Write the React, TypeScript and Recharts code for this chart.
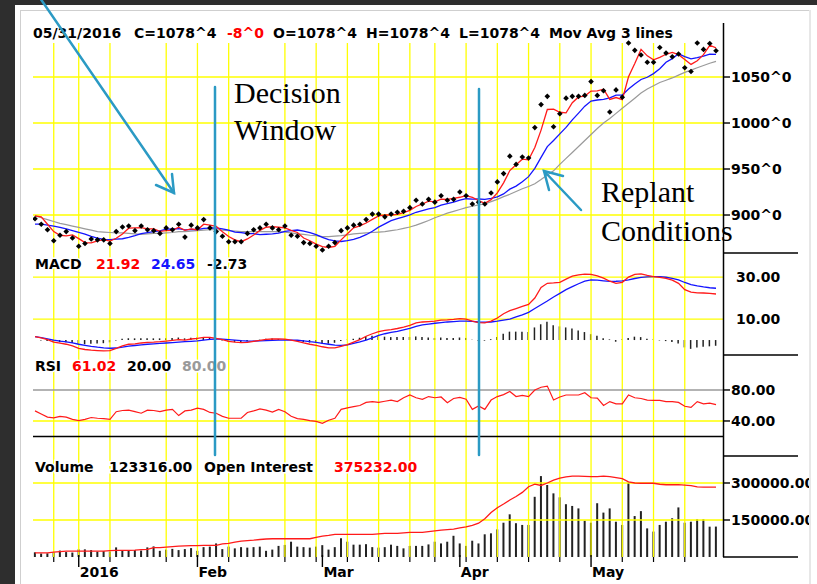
import React from 'react';
import { ComposedChart, Line, Bar, Scatter, XAxis, YAxis, ReferenceLine } from 'recharts';

// daily closes, 22 Dec 2015 .. 31 May 2016 (110 sessions)
const closes = [
  896, 890, 884, 872, 878, 882, 875, 866, 869, 874,
  873, 873, 869, 882, 887, 888, 883, 888, 884, 883,
  880, 886, 884, 890, 876, 889, 886, 895, 886, 882,
  877, 871, 871, 871, 880, 884, 886, 890, 886, 884,
  888, 878, 877, 870, 869, 866, 862, 866, 870, 883,
  886, 889, 890, 895, 901, 901, 898, 901, 903, 904,
  908, 916, 912, 917, 914, 921, 916, 917, 925, 921,
  912, 914, 912, 924, 936, 945, 964, 955, 963, 962,
  995, 1020, 1029, 996, 1010, 1027, 1029, 1029, 1030, 1045,
  1030, 1035, 1012, 1036, 1028, 1087, 1079, 1074, 1066, 1066,
  1082, 1076, 1072, 1075, 1060, 1056, 1087, 1080, 1086.5, 1078.5,
];

const maFast = [
  899, 898, 890, 882, 878, 877.3, 878.3, 874.3, 870, 869.7,
  872, 873.3, 871.7, 874.7, 879.3, 885.7, 886, 886.3, 885, 885,
  882.3, 883, 883.3, 886.7, 883.3, 885, 883.7, 890, 889, 887.7,
  881.7, 876.7, 873, 871, 874, 878.3, 883.3, 886.7, 887.3, 886.7,
  886, 883.3, 881, 875, 872, 868.3, 865.7, 864.7, 866, 873,
  879.7, 886, 888.3, 891.3, 895.3, 899, 900, 900, 900.7, 902.7,
  905, 909.3, 912, 915, 914.3, 917.3, 917, 918, 919.3, 921,
  919.3, 915.7, 912.7, 916.7, 924, 935, 948.3, 954.7, 960.7, 960,
  973.3, 992.3, 1014.7, 1015, 1011.7, 1011, 1022, 1028.3, 1029.3, 1034.7,
  1035, 1036.7, 1025.7, 1027.7, 1025.3, 1050.3, 1064.7, 1080, 1073, 1068.7,
  1071.3, 1074.7, 1076.7, 1074.3, 1069, 1063.7, 1067.7, 1074.3, 1084.5, 1081.7,
];

const maMid = [
  890, 890, 889, 888, 886.5, 885, 883, 881, 879.1, 876.7,
  874.8, 873.6, 873.2, 873.7, 874.2, 875.7, 877.6, 879.7, 880.8, 881.9,
  882.7, 884.6, 884.8, 885.1, 883.8, 884.4, 884.2, 885.4, 885.8, 886,
  885, 883.6, 881.4, 880.9, 879.9, 879.7, 878.7, 879.1, 879.6, 880.3,
  882.2, 883, 883.7, 882.6, 880.9, 878.7, 875.6, 873.3, 871.8, 871.2,
  872.1, 873.4, 875.7, 878.6, 882.4, 886.8, 890.3, 893.8, 896, 898,
  900.1, 903, 904.9, 906.7, 908.1, 910.7, 912.3, 913.9, 916.2, 917.7,
  917.2, 917.4, 916.9, 918, 919.7, 922.9, 928.1, 931.4, 936.1, 941.7,
  950.7, 962.7, 974.3, 981, 988.2, 995.2, 1003.4, 1010.8, 1018.3, 1023.9,
  1025, 1025.7, 1027.4, 1030.3, 1030.4, 1036.9, 1042.4, 1047.3, 1049.7, 1053.7,
  1058.9, 1066, 1070, 1075.2, 1072.2, 1069.7, 1071.1, 1072.7, 1074.9, 1074.6,
];

const maSlow = [
  899, 897, 895, 893, 891, 889.5, 888, 886.5, 885, 883.5,
  882, 881.5, 881, 880.5, 880.5, 880, 879.5, 879, 879.5, 880,
  880, 880.5, 881, 882, 882, 882.5, 883, 883.5, 884, 884,
  883.5, 883, 882.5, 882, 882, 882, 882, 882, 882, 882,
  881.5, 880.5, 879.5, 879, 878, 877.5, 876.5, 876.5, 877, 877.5,
  878.5, 879.5, 880, 880.5, 881, 881.5, 882, 883, 884, 885.5,
  887, 889, 891.5, 894, 897, 899.5, 902, 904, 906, 908,
  909.5, 911, 912, 914.5, 917, 920, 922.5, 925.5, 928.5, 931,
  934, 938.5, 943.5, 948, 955, 961.5, 968, 974.5, 981, 987.5,
  994, 1000, 1005, 1010.5, 1016, 1021.5, 1027, 1032.5, 1037, 1040.5,
  1044, 1046.5, 1049, 1052, 1055, 1057.5, 1060, 1062.5, 1065, 1067,
];

const macdLine = [
  1.6, 1.0, 0.2, -1.0, -1.5, -2.0, -2.8, -4.0, -4.5, -4.8,
  -5.0, -5.2, -5.0, -4.0, -2.8, -2.0, -1.8, -1.4, -1.1, -1.0,
  -0.8, -0.5, -0.2, 0.2, 0.0, 0.5, 0.8, 1.3, 1.3, 0.8,
  0.2, -0.6, -1.0, -1.2, -1.1, -0.6, -0.2, 0.3, 0.5, 0.5,
  0.4, 0.0, -0.6, -1.4, -2.0, -2.5, -3.2, -3.7, -3.7, -3.0,
  -2.2, -1.0, 0.2, 1.8, 3.0, 4.0, 4.6, 5.0, 5.5, 6.2,
  7.0, 8.2, 8.6, 8.8, 9.0, 9.5, 9.6, 9.8, 10.2, 10.0,
  9.0, 8.3, 8.2, 9.0, 10.5, 12.5, 14.0, 15.0, 16.0, 17.0,
  20.0, 25.0, 27.0, 27.2, 27.5, 29.0, 30.4, 31.0, 31.4, 31.3,
  30.6, 29.5, 28.0, 27.0, 27.5, 30.0, 31.3, 31.5, 30.8, 30.2,
  29.8, 29.4, 28.5, 27.0, 24.0, 22.8, 22.5, 22.4, 22.2, 21.92,
];

const macdSignal = [
  1.6, 1.2, 0.6, 0.0, -0.5, -0.9, -1.4, -2.0, -2.5, -3.0,
  -3.4, -3.7, -3.9, -3.8, -3.4, -2.9, -2.6, -2.3, -2.0, -1.8,
  -1.6, -1.4, -1.2, -1.0, -0.8, -0.6, -0.4, 0.0, 0.3, 0.5,
  0.4, 0.2, 0.0, -0.3, -0.5, -0.5, -0.4, -0.3, -0.2, 0.0,
  0.0, 0.0, -0.1, -0.4, -0.8, -1.1, -1.6, -2.0, -2.4, -2.5,
  -2.3, -1.6, -0.9, 0.0, 1.0, 2.2, 3.0, 3.6, 4.1, 4.8,
  5.5, 6.5, 7.2, 7.6, 8.0, 8.3, 8.6, 8.8, 9.0, 9.0,
  8.9, 8.6, 8.5, 8.6, 9.0, 9.5, 10.0, 11.0, 12.0, 13.2,
  15.0, 16.8, 18.6, 20.5, 22.2, 24.0, 25.4, 26.8, 28.0, 28.6,
  28.5, 28.2, 27.9, 28.0, 28.2, 28.6, 29.3, 29.8, 30.1, 30.2,
  30.2, 29.9, 29.4, 28.6, 27.4, 26.4, 25.8, 25.3, 24.9, 24.65,
];

const macdHist = [
  0, -0.2, -0.4, -1.0, -1.0, -1.1, -1.4, -2.0, -2.0, -1.8,
  -1.6, -1.5, -1.1, -0.2, 0.6, 0.9, 0.8, 0.9, 0.9, 0.8,
  0.8, 0.9, 1.0, 1.2, 0.8, 1.1, 1.2, 1.3, 1.0, 0.3,
  -0.2, -0.8, -1.0, -0.9, -0.6, -0.1, 0.2, 0.6, 0.7, 0.5,
  0.4, 0.0, -0.5, -1.0, -1.2, -1.4, -1.6, -1.7, -1.3, -0.5,
  0.1, 0.6, 1.1, 1.8, 2.0, 1.8, 1.6, 1.4, 1.4, 1.4,
  1.5, 1.7, 1.4, 1.2, 1.0, 1.2, 1.0, 1.0, 1.2, 1.0,
  0.1, -0.3, -0.3, 0.4, 1.5, 3.0, 4.0, 4.0, 4.0, 3.8,
  6.0, 7.5, 8.7, 7.0, 6.5, 6.0, 5.5, 4.6, 3.8, 2.8,
  2.0, 0.9, 0.3, -0.8, 0.3, 1.0, 1.6, 1.4, 0.6, 0.3,
  -0.2, -0.5, -0.9, -1.6, -3.5, -4.2, -3.6, -3.2, -3.0, -2.73,
];

const rsiLine = [
  53, 49, 45, 44, 46, 45, 42, 40.5, 42, 44.5,
  43.5, 43, 42, 52, 53.5, 54, 52, 50, 54, 53.5,
  52, 54, 55, 47, 53, 54, 56.5, 55, 51, 50,
  46, 43.5, 43.5, 43.5, 51, 53, 55.5, 54, 51.5, 55,
  52, 46, 43, 42, 40.5, 39.5, 37, 41, 43.5, 55,
  57, 58.5, 60, 64, 65, 64, 65.5, 67, 65, 70,
  73.5, 70, 68, 71.5, 70, 71, 63.5, 69, 70.5, 68,
  55, 59.5, 55, 67, 71.5, 74, 78, 71.5, 73, 71.5,
  80, 83.5, 85, 67, 71, 73.5, 73.5, 73.5, 76.5, 70,
  69.5, 60, 65, 62, 62, 73.5, 70, 69, 67, 66.5,
  66.5, 65, 65, 64, 59, 57.5, 65, 62, 63, 61.02,
];

const volume = [
  19000, 14000, 15000, 18000, 26000, 20000, 18000, 31000, 31000, 28000,
  22000, 24000, 22000, 39000, 27000, 25000, 28000, 26000, 39000, 43000,
  25000, 30000, 33000, 28000, 32000, 36000, 25000, 40000, 42000, 55000,
  32000, 42000, 35000, 40000, 38000, 40000, 42000, 25000, 30000, 45000,
  49000, 62000, 42000, 40000, 38000, 42000, 48000, 30000, 40000, 76000,
  62000, 50000, 50000, 52000, 40000, 38000, 40000, 50000, 45000, 35000,
  45000, 45000, 45000, 51000, 62000, 55000, 62000, 86000, 55000, 45000,
  66000, 55000, 92000, 96000, 112000, 139000, 173000, 137000, 130000, 130000,
  244000, 328000, 292000, 258000, 242000, 214000, 207000, 197000, 147000, 139000,
  218000, 180000, 197000, 143000, 130000, 301000, 166000, 186000, 116000, 103000,
  130000, 143000, 157000, 201000, 139000, 143000, 153000, 153000, 123000, 123316,
];

const openInterest = [
  17000, 17000, 17000, 20000, 22000, 24000, 24000, 24000, 24000, 24000,
  24000, 24000, 26000, 27000, 27000, 27000, 28000, 30000, 31000, 38000,
  38000, 40000, 42000, 44000, 45000, 46000, 46000, 47000, 47000, 47000,
  53000, 55000, 60000, 64000, 66000, 68000, 71000, 73000, 74000, 74000,
  74000, 74000, 74000, 74000, 74000, 80000, 85000, 88000, 92000, 92000,
  92000, 92000, 92000, 92000, 92000, 94000, 96000, 96000, 96000, 98000,
  100000, 100000, 100000, 103000, 106000, 109000, 111000, 113000, 118000, 122000,
  128000, 137000, 155000, 180000, 200000, 215000, 231000, 245000, 262000, 285000,
  295000, 290000, 300000, 312000, 320000, 325000, 328000, 328000, 327000, 326000,
  326000, 328000, 326000, 322000, 318000, 305000, 300000, 299000, 299000, 299000,
  295000, 293000, 293000, 293000, 291000, 289000, 284000, 283000, 283000, 283000,
];

// first session of each week (Mondays) and of each month, as session numbers
const weekStarts = [3, 7, 12, 21, 26, 31, 40, 45, 50, 55, 60, 64, 69, 74, 79, 84, 89, 94, 99, 104];
const monthStarts = [7, 26, 46, 68, 89];
const monthLabels = ['2016', 'Feb', 'Mar', 'Apr', 'May'];

const priceTicks = [900, 950, 1000, 1050];
const macdTicks = [10, 30];
const rsiTicks = [40, 80, 20];
const volumeTicks = [150000, 300000];

const headerPrice = [
  { x: 33, t: '05/31/2016' },
  { x: 134, t: 'C=1078^4' },
  { x: 227, t: '-8^0', c: '#f00' },
  { x: 273, t: 'O=1078^4' },
  { x: 366, t: 'H=1078^4' },
  { x: 459, t: 'L=1078^4' },
  { x: 549, t: 'Mov Avg 3 lines' },
];
const headerMacd = [
  { x: 35, t: 'MACD' },
  { x: 96, t: '21.92', c: '#f00' },
  { x: 151, t: '24.65', c: '#1414ff' },
  { x: 207, t: '-2.73' },
];
const headerRsi = [
  { x: 35, t: 'RSI' },
  { x: 72, t: '61.02', c: '#f00' },
  { x: 127, t: '20.00' },
  { x: 182, t: '80.00', c: '#9a9a9a' },
];
const headerVolume = [
  { x: 35, t: 'Volume' },
  { x: 109, t: '123316.00' },
  { x: 204, t: 'Open Interest' },
  { x: 334, t: '375232.00', c: '#f00' },
];

const rows = closes.map((c, i) => ({
  i,
  close: c,
  maFast: maFast[i],
  maMid: maMid[i],
  maSlow: maSlow[i],
  macd: macdLine[i],
  signal: macdSignal[i],
  hist: macdHist[i],
  rsi: rsiLine[i],
  volume: volume[i],
  oi: openInterest[i],
}));

const W = 817;
const H = 584;
const AXIS_Y = 557;
const X_DOMAIN: [number, number] = [-0.32, 110.12];
// each study panel lives in its own band of the shared plot, so the axes are stretched
const PRICE_DOMAIN: [number, number] = [528.3, 1108.7];
const MACD_DOMAIN: [number, number] = [-103.3, 150.95];
const RSI_DOMAIN: [number, number] = [-135.5, 553.5];
const VOL_DOMAIN: [number, number] = [0, 2164800];
const GRID_TOP_PRICE = 1087;

const FONT = "'DejaVu Sans', Verdana, sans-serif";
const SERIF = "'Liberation Serif', 'Times New Roman', serif";
const YELLOW = '#ffff00';
const TEAL = '#2b9ac4';
const allTicks = Array.from(new Set([...weekStarts, ...monthStarts])).sort((a, b) => a - b);

const Diamond = (props: any) => {
  const { cx, cy } = props;
  if (cx == null || cy == null) return null;
  const r = 2.8;
  return <polygon points={`${cx},${cy - r} ${cx + r},${cy} ${cx},${cy + r} ${cx - r},${cy}`} fill="#000" />;
};

const DateTick = (props: any) => {
  const { x, payload } = props;
  const m = monthStarts.indexOf(payload.value);
  if (m >= 0) {
    return (
      <g>
        <line x1={x} x2={x} y1={AXIS_Y - 2} y2={AXIS_Y + 10} stroke="#000" strokeWidth={1.4} />
        <text x={x + 1} y={AXIS_Y + 20} fontFamily={FONT} fontWeight="bold" fontSize={14} fill="#000">
          {monthLabels[m]}
        </text>
      </g>
    );
  }
  return <line x1={x} x2={x} y1={AXIS_Y} y2={AXIS_Y + 5} stroke="#000" strokeWidth={1.2} />;
};

const sideLabel = (text: string, dash = true) => (props: any) => {
  const vb = props.viewBox || {};
  const x = (vb.x ?? 0) + (vb.width ?? 0);
  const y = vb.y ?? 0;
  return (
    <g>
      {dash && <line x1={x} x2={x + 7} y1={y} y2={y} stroke="#000" strokeWidth={1.4} />}
      <text x={x + (dash ? 8 : 13)} y={y} dy="0.36em" fontFamily={FONT} fontWeight="bold" fontSize={14} fill="#000">
        {text}
      </text>
    </g>
  );
};

const HeaderRow = ({ items, y }: { items: { x: number; t: string; c?: string }[]; y: number }) => (
  <g>
    {items.map((h) => (
      <text
        key={h.t}
        x={h.x}
        y={y}
        fontFamily={FONT}
        fontWeight="bold"
        fontSize={14}
        fill={h.c || '#000'}
        stroke="#fff"
        strokeWidth={3}
        paintOrder="stroke"
      >
        {h.t}
      </text>
    ))}
  </g>
);

export default function App() {
  return (
    <div style={{ position: 'absolute', left: 0, top: 0, width: W, height: H, background: '#2e2e2e', overflow: 'hidden' }}>
      <div style={{ position: 'absolute', left: 15, top: 5, width: W - 15, height: H - 5, background: '#fff' }} />
      <div style={{ position: 'absolute', left: 20, top: 10, width: 790, height: H, border: '1px solid #cfcfcf', boxSizing: 'border-box' }} />
      <div style={{ position: 'absolute', left: 0, top: 0 }}>
        <ComposedChart width={W} height={H} data={rows} margin={{ top: 23, right: 94, bottom: 5, left: 33 }}>
          <XAxis
            xAxisId="m"
            dataKey="i"
            type="number"
            domain={X_DOMAIN}
            allowDataOverflow
            ticks={allTicks}
            interval={0}
            tick={<DateTick />}
            tickSize={6}
            tickMargin={0}
            tickLine={false}
            height={22}
            axisLine={{ stroke: '#000', strokeWidth: 1.5 }}
          />
          <XAxis xAxisId="v" dataKey="i" type="number" domain={X_DOMAIN} allowDataOverflow hide />
          <XAxis xAxisId="h" dataKey="i" type="number" domain={X_DOMAIN} allowDataOverflow hide />
          <YAxis yAxisId="price" type="number" domain={PRICE_DOMAIN} allowDataOverflow hide />
          <YAxis yAxisId="macd" type="number" domain={MACD_DOMAIN} allowDataOverflow hide />
          <YAxis yAxisId="rsi" type="number" domain={RSI_DOMAIN} allowDataOverflow hide />
          <YAxis yAxisId="vol" type="number" domain={VOL_DOMAIN} allowDataOverflow hide />

          {weekStarts.map((w) => (
            <ReferenceLine
              key={`w${w}`}
              xAxisId="m"
              yAxisId="price"
              segment={[{ x: w, y: GRID_TOP_PRICE }, { x: w, y: PRICE_DOMAIN[0] }]}
              stroke={YELLOW}
              strokeWidth={1.3}
            />
          ))}
          {priceTicks.map((v) => (
            <ReferenceLine key={`p${v}`} xAxisId="m" yAxisId="price" y={v} stroke={YELLOW} strokeWidth={1.3} label={sideLabel(`${v}^0`)} />
          ))}
          {macdTicks.map((v) => (
            <ReferenceLine key={`m${v}`} xAxisId="m" yAxisId="macd" y={v} stroke={YELLOW} strokeWidth={1.3} label={sideLabel(v.toFixed(2), false)} />
          ))}
          <ReferenceLine xAxisId="m" yAxisId="rsi" y={rsiTicks[0]} stroke={YELLOW} strokeWidth={1.3} label={sideLabel(rsiTicks[0].toFixed(2))} />
          <ReferenceLine xAxisId="m" yAxisId="rsi" y={rsiTicks[1]} stroke="#9a9a9a" strokeWidth={1.3} label={sideLabel(rsiTicks[1].toFixed(2))} />
          <ReferenceLine xAxisId="m" yAxisId="rsi" y={rsiTicks[2]} stroke="#000" strokeWidth={1.4} />
          {volumeTicks.map((v) => (
            <ReferenceLine key={`v${v}`} xAxisId="m" yAxisId="vol" y={v} stroke={YELLOW} strokeWidth={1.3} label={sideLabel(v.toFixed(2))} />
          ))}

          <Line xAxisId="m" yAxisId="price" dataKey="maSlow" stroke="#9a9a9a" strokeWidth={1.2} dot={false} isAnimationActive={false} />
          <Line xAxisId="m" yAxisId="price" dataKey="maMid" stroke="#1414ff" strokeWidth={1.3} dot={false} isAnimationActive={false} />
          <Line xAxisId="m" yAxisId="price" dataKey="maFast" stroke="#ff1a1a" strokeWidth={1.3} dot={false} isAnimationActive={false} />
          <Scatter xAxisId="m" yAxisId="price" dataKey="close" shape={Diamond} isAnimationActive={false} />

          <Bar xAxisId="h" yAxisId="macd" dataKey="hist" fill="#222" barSize={1.5} isAnimationActive={false} />
          <Line xAxisId="m" yAxisId="macd" dataKey="signal" stroke="#1414ff" strokeWidth={1.3} dot={false} isAnimationActive={false} />
          <Line xAxisId="m" yAxisId="macd" dataKey="macd" stroke="#ff1a1a" strokeWidth={1.3} dot={false} isAnimationActive={false} />

          <Line xAxisId="m" yAxisId="rsi" dataKey="rsi" stroke="#ff1a1a" strokeWidth={1.2} dot={false} isAnimationActive={false} />

          <Bar xAxisId="v" yAxisId="vol" dataKey="volume" fill="#222" barSize={2} isAnimationActive={false} />
          <Line xAxisId="m" yAxisId="vol" dataKey="oi" stroke="#ff1a1a" strokeWidth={1.3} dot={false} isAnimationActive={false} />
        </ComposedChart>
      </div>

      <svg width={W} height={H} style={{ position: 'absolute', left: 0, top: 0, pointerEvents: 'none' }}>
        <line x1={723.5} x2={723.5} y1={23} y2={AXIS_Y} stroke="#000" strokeWidth={1.5} />
        {[253, 355, 456, AXIS_Y].map((y) => (
          <line key={y} x1={723} x2={798} y1={y} y2={y} stroke="#000" strokeWidth={1.5} />
        ))}
        <rect x={809} y={10} width={8} height={H} fill="#fff" />
        <line x1={810} x2={810} y1={10} y2={H} stroke="#cfcfcf" strokeWidth={1} />

        <HeaderRow items={headerPrice} y={38} />
        <HeaderRow items={headerMacd} y={269} />
        <HeaderRow items={headerRsi} y={370.5} />
        <HeaderRow items={headerVolume} y={471.5} />

        <text x={234} y={103} fontFamily={SERIF} fontSize={30} fill="#000">Decision</text>
        <text x={234} y={140} fontFamily={SERIF} fontSize={30} fill="#000">Window</text>
        <text x={601} y={202} fontFamily={SERIF} fontSize={30} fill="#000">Replant</text>
        <text x={601} y={241} fontFamily={SERIF} fontSize={30} fill="#000">Conditions</text>

        <g stroke={TEAL} strokeWidth={2.5} fill="none" strokeLinecap="round">
          <line x1={215} x2={215} y1={87} y2={455} />
          <line x1={479} x2={479} y1={89} y2={455} />
          <line x1={40} y1={-2} x2={174} y2={193} />
          <polyline points="172,174 174,193 156,185" />
          <line x1={581} y1={210} x2={544} y2={171} />
          <polyline points="563,176 544,171 549,190" />
        </g>
      </svg>
    </div>
  );
}
